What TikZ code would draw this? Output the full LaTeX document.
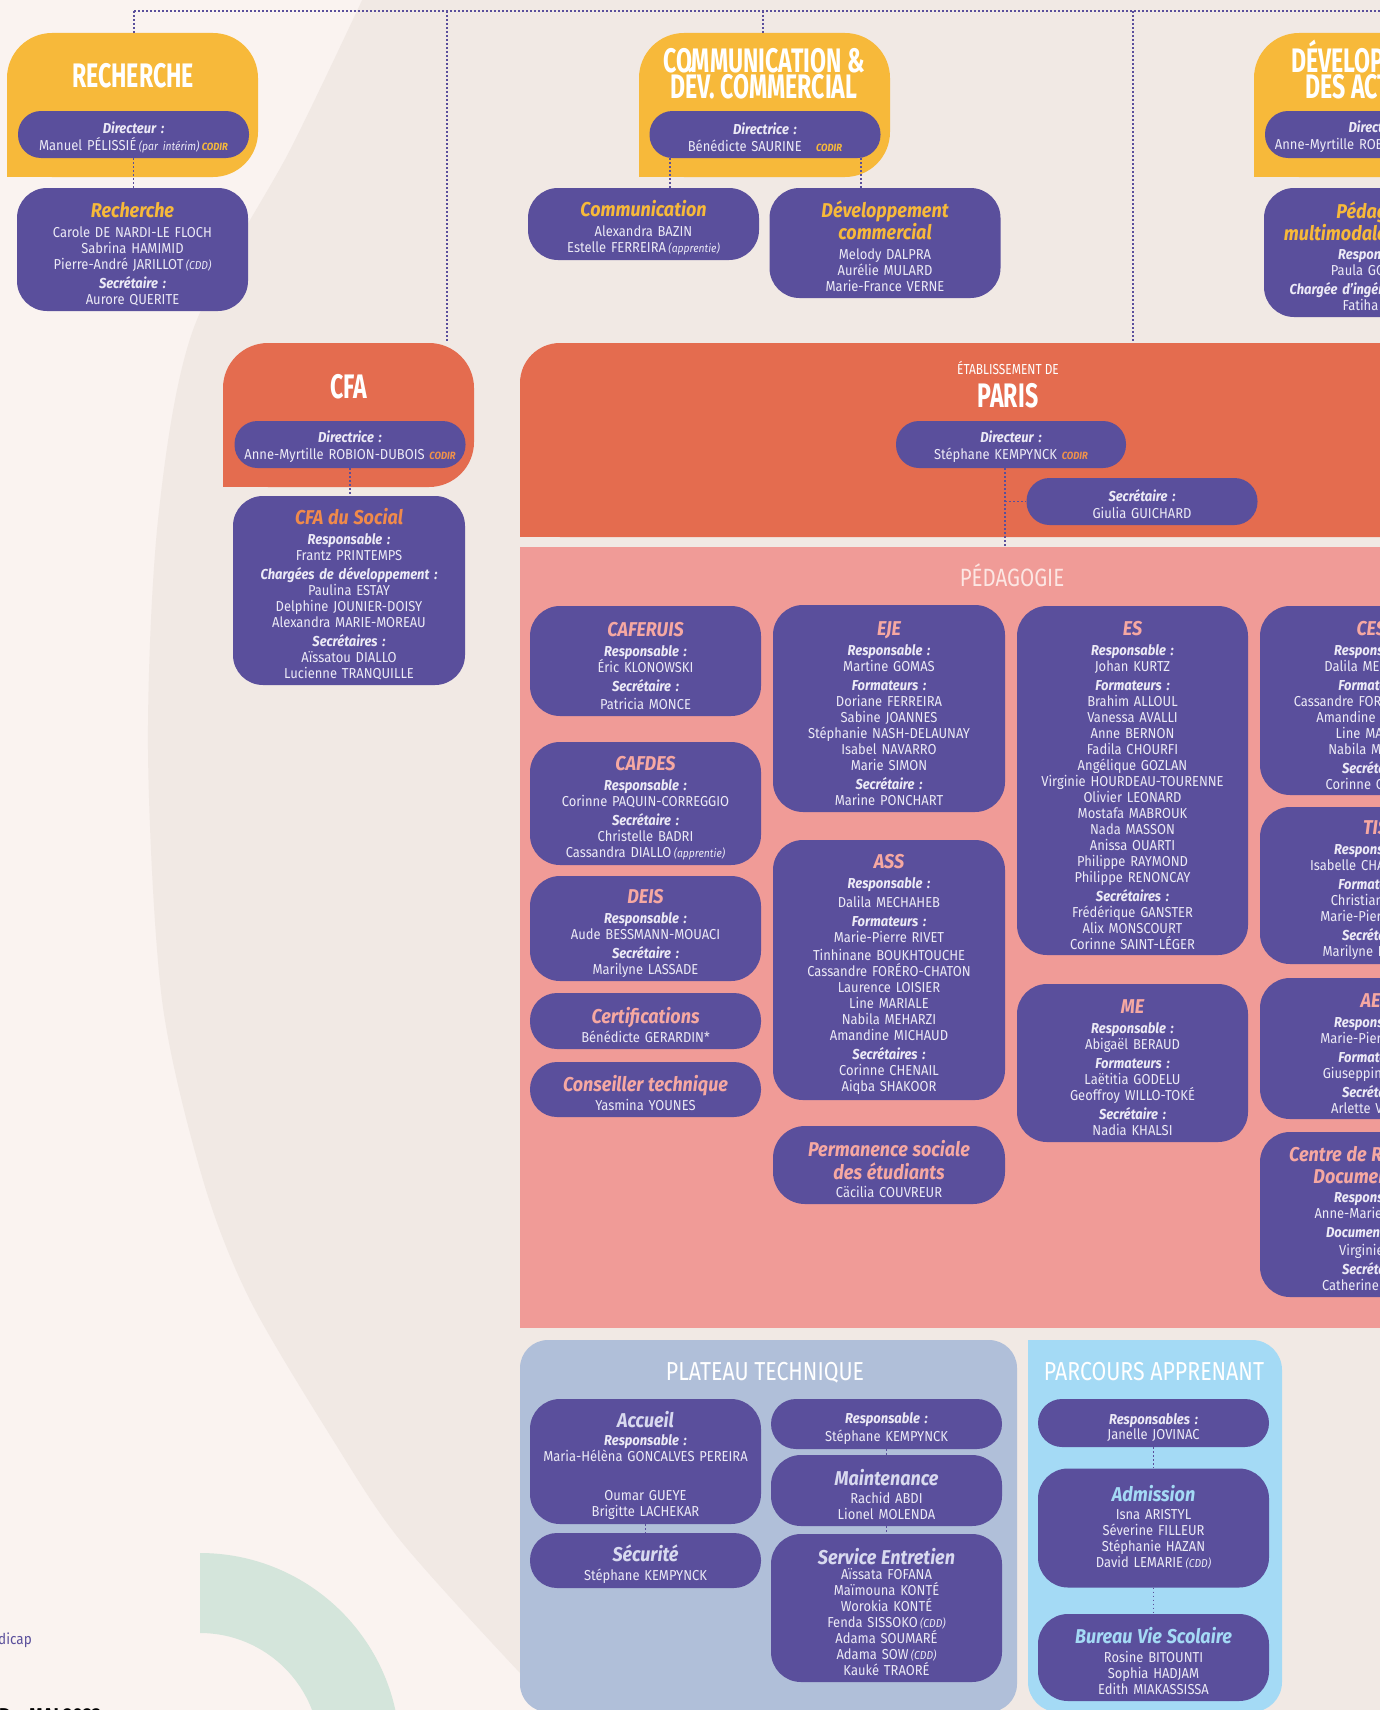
\documentclass[tikz,border=0pt]{standalone}
\usepackage{fontspec}
\setmainfont{Fira Sans}[FakeStretch=0.9]
\newfontfamily\bigfont{Fira Sans}[FakeStretch=0.68]
\newfontfamily\headfont{Fira Sans}[FakeStretch=0.82]
\definecolor{bgl}{HTML}{FAF3F0}
\definecolor{bgd}{HTML}{F1E9E4}
\definecolor{grn}{HTML}{D4E5DB}
\definecolor{yel}{HTML}{F7B93A}
\definecolor{purp}{HTML}{5A4F9C}
\definecolor{coral}{HTML}{E46C4F}
\definecolor{pinka}{HTML}{F09B97}
\definecolor{slate}{HTML}{B0BFD9}
\definecolor{skyb}{HTML}{A4DAF5}
\definecolor{namec}{HTML}{ECEAF6}
\definecolor{ttly}{HTML}{F7B93A}
\definecolor{ttlo}{HTML}{F08A4B}
\definecolor{ttlp}{HTML}{F6A8A2}
\definecolor{ttll}{HTML}{D8D9EF}
\definecolor{ttlb}{HTML}{A4DAF5}
\definecolor{codo}{HTML}{F0924A}
\definecolor{pedt}{HTML}{FCE6E3}
\newcommand\basefnt{\fontsize{14.4}{16}\selectfont\lineskiplimit=-30pt\relax}
\newcommand\bigfnt{\bigfont\bfseries\fontsize{34}{26}\selectfont\lineskiplimit=-30pt\relax}
\newcommand\headfnt{\headfont\fontsize{26}{28}\selectfont}
\newcommand\etabfnt{\headfont\fontsize{14.5}{16}\selectfont}
\newcommand\mylab[1]{{\bfseries\itshape #1}}
\newcommand\myttl[2][ttly]{{\fontsize{20}{22}\selectfont\bfseries\itshape\color{#1}#2}}
\newcommand\mysm[1]{{\fontsize{11.5}{12}\selectfont\itshape #1}}
\newcommand\mycod[1][ttly]{{\fontsize{10.5}{12}\selectfont\bfseries\itshape\color{#1}CODIR}}
\tikzset{
  txtbox/.style={rectangle, fill=purp, inner sep=0pt, align=center, text=namec, font=\basefnt},
  ubox/.style={txtbox, rounded corners=30pt, minimum width=231pt, text width=228pt, execute at begin node={\rule{0pt}{24pt}}},
  lbox/.style={txtbox, rounded corners=30pt, minimum width=231pt, text width=228pt, execute at begin node={\rule{0pt}{19.5pt}}},
  pill/.style={txtbox, rounded corners=23pt, minimum width=231pt, minimum height=47pt, text width=228pt, execute at begin node={\rule{0pt}{17pt}}},
  ybox/.style={rectangle, fill=yel, rounded corners=45pt, minimum width=251pt, minimum height=144pt, inner sep=0pt},
  cbox/.style={rectangle, fill=coral, rounded corners=45pt, minimum width=251pt, minimum height=144pt, inner sep=0pt},
  conn/.style={draw=purp, line width=1.6pt, dash pattern=on 1.6pt off 2.4pt},
  bigtitle/.style={font=\bigfnt, text=white, align=center, anchor=base, inner sep=0pt},
  headtitle/.style={font=\headfnt, text=white, anchor=base, inner sep=0pt}
}
\begin{document}
\begin{tikzpicture}[x=1pt,y=-1pt]
\useasboundingbox (0,0) rectangle (1380,1710);
\begin{scope}
\clip (0,0) rectangle (1380,1710);
% background
\fill[bgl] (0,0) rectangle (1380,1710);
\fill[bgd] plot[smooth] coordinates {(364,-4) (290,150) (193,330) (158,520) (148,750) (162,1000) (203,1180) (250,1300) (333,1440) (400,1540) (520,1673) (565,1716)} -- (1390,1716) -- (1390,-4) -- cycle;
\fill[grn] (200,1553) arc[start angle=-90, end angle=0, radius=200] -- (320,1753) arc[start angle=0, end angle=-90, radius=120] -- cycle;
\node[anchor=base east, font=\fontsize{15}{16}\selectfont, text=purp, inner sep=0pt] (hand) at (32,1644) {dicap};
\node[anchor=base west, font=\bfseries\fontsize{20}{22}\selectfont, text=black, inner sep=0pt] (date) at (-1,1722) {D – MAI 2023};

% ---------- top containers ----------
\node[ybox] (rechY) at (132.5,105) {};
\fill[yel] (rechY.south west) rectangle ++(50,-50);
\node[ybox] (commY) at (764.5,105) {};
\fill[yel] (commY.south west) rectangle ++(50,-50);
\node[ybox] (devY) at (1379.5,105) {};
\fill[yel] (devY.south west) rectangle ++(50,-50);
\node[bigtitle] (rechT) at (133,88) {RECHERCHE};
\node[bigtitle] (commT) at (764,98) {COMMUNICATION \&\\DÉV. COMMERCIAL};
\node[bigtitle] (devT) at (1380,98) {DÉVELOPPEMENT\\DES ACTIVITÉS};

\node[pill] (rechP) at (133.5,134.5) {\mylab{Directeur :}\\[1pt]Manuel PÉLISSIÉ\,\mysm{(par intérim)}\,\mycod};
\node[pill] (commP) at (765,134.5) {\mylab{Directrice :}\\[1pt]Bénédicte SAURINE\quad\mycod};
\node[pill] (devP) at (1380.5,134.5) {\mylab{Directrice :}\\[1pt]Anne-Myrtille ROBION-DUBOIS\ \mycod};

\node[ubox, minimum height=123pt] (rechB) at (132.5,249.5) {\myttl{Recherche}\\[4pt]Carole DE NARDI-LE FLOCH\\Sabrina HAMIMID\\Pierre-André JARILLOT\,\mysm{(CDD)}\\[3pt]\mylab{Secrétaire :}\\Aurore QUERITE};
\node[ubox, minimum height=72pt] (commB) at (643.5,224) {\myttl{Communication}\\[4pt]Alexandra BAZIN\\Estelle FERREIRA\,\mysm{(apprentie)}};
\node[ubox, minimum height=110pt] (devcB) at (885,243) {\myttl{Développement}\\[6pt]\myttl{commercial}\\[4pt]Melody DALPRA\\Aurélie MULARD\\Marie-France VERNE};
\node[ubox, minimum height=129pt] (pedmB) at (1379.5,252.5) {\myttl{Pédagogie}\\[6pt]\myttl{multimodale et digitale}\\[3pt]\mylab{Responsable :}\\Paula GONZALEZ\\[3pt]\mylab{Chargée d’ingénierie digitale :}\\Fatiha VIDAL};

% ---------- CFA ----------
\node[cbox] (cfaC) at (348.5,415) {};
\fill[coral] (cfaC.south west) rectangle ++(50,-50);
\node[bigtitle] (cfaT) at (349,398) {CFA};
\node[pill] (cfaP) at (350,444.5) {\mylab{Directrice :}\\[1pt]Anne-Myrtille ROBION-DUBOIS\ \mycod[codo]};
\node[ubox, minimum width=232pt, minimum height=189pt] (cfaB) at (349,590.5) {\myttl[ttlo]{CFA du Social}\\[4pt]\mylab{Responsable :}\\Frantz PRINTEMPS\\[3pt]\mylab{Chargées de développement :}\\Paulina ESTAY\\Delphine JOUNIER-DOISY\\Alexandra MARIE-MOREAU\\[3pt]\mylab{Secrétaires :}\\Aïssatou DIALLO\\Lucienne TRANQUILLE};

% ---------- PARIS ----------
\node[rectangle, fill=coral, rounded corners=40pt, minimum width=900pt, minimum height=194pt, inner sep=0pt] (parisC) at (970,440) {};
\fill[coral] (parisC.south west) rectangle ++(50,-50);
\node[font=\etabfnt, text=white, anchor=base, inner sep=0pt] (etabT) at (1008,374) {ÉTABLISSEMENT DE};
\node[bigtitle] (parisT) at (1008,407) {PARIS};
\node[pill, minimum width=230pt] (parisP) at (1011,444.5) {\mylab{Directeur :}\\[1pt]Stéphane KEMPYNCK\ \mycod[codo]};
\node[pill] (secP) at (1142,501.5) {\mylab{Secrétaire :}\\[1pt]Giulia GUICHARD};

% ---------- PEDAGOGIE ----------
\node[rectangle, fill=pinka, minimum width=900pt, minimum height=781pt, inner sep=0pt] (pedaC) at (970,937.5) {};
\node[font=\headfont\fontsize{25}{27}\selectfont, text=pedt, anchor=base, inner sep=0pt] (pedaT) at (1012,586) {PÉDAGOGIE};

\node[ubox, minimum height=110pt] (caferuis) at (645.5,661) {\myttl[ttlp]{CAFERUIS}\\[4pt]\mylab{Responsable :}\\Éric KLONOWSKI\\[3pt]\mylab{Secrétaire :}\\[2pt]Patricia MONCE};
\node[ubox, minimum height=123pt] (cafdes) at (645.5,803.5) {\myttl[ttlp]{CAFDES}\\[4pt]\mylab{Responsable :}\\Corinne PAQUIN-CORREGGIO\\[3pt]\mylab{Secrétaire :}\\Christelle BADRI\\Cassandra DIALLO\,\mysm{(apprentie)}};
\node[ubox, minimum height=105pt] (deis) at (645.5,928.5) {\myttl[ttlp]{DEIS}\\[4pt]\mylab{Responsable :}\\Aude BESSMANN-MOUACI\\[3pt]\mylab{Secrétaire :}\\Marilyne LASSADE};
\node[ubox, rounded corners=27pt, minimum height=56pt] (certif) at (645.5,1021) {\myttl[ttlp]{Certifications}\\[3pt]Bénédicte GERARDIN*};
\node[ubox, rounded corners=27pt, minimum height=55pt] (conseil) at (645.5,1089.5) {\myttl[ttlp]{Conseiller technique}\\[3pt]Yasmina YOUNES};

\node[ubox, minimum width=232pt, minimum height=207pt] (eje) at (889,708.5) {\myttl[ttlp]{EJE}\\[4pt]\mylab{Responsable :}\\Martine GOMAS\\[3pt]\mylab{Formateurs :}\\Doriane FERREIRA\\Sabine JOANNES\\Stéphanie NASH-DELAUNAY\\Isabel NAVARRO\\Marie SIMON\\[3pt]\mylab{Secrétaire :}\\Marine PONCHART};
\node[ubox, minimum width=232pt, minimum height=260pt] (ass) at (889,970) {\myttl[ttlp]{ASS}\\[4pt]\mylab{Responsable :}\\[3pt]Dalila MECHAHEB\\[3pt]\mylab{Formateurs :}\\Marie-Pierre RIVET\\[2pt]Tinhinane BOUKHTOUCHE\\Cassandre FORÉRO-CHATON\\Laurence LOISIER\\Line MARIALE\\Nabila MEHARZI\\Amandine MICHAUD\\[3pt]\mylab{Secrétaires :}\\Corinne CHENAIL\\Aiqba SHAKOOR};
\node[ubox, minimum width=232pt, minimum height=78pt, rounded corners=32pt] (perm) at (889,1165) {\myttl[ttlp]{Permanence sociale}\\[7pt]\myttl[ttlp]{des étudiants}\\[2pt]Cäcilia COUVREUR};

\node[ubox, minimum height=349pt] (es) at (1132.5,780.5) {\myttl[ttlp]{ES}\\[4pt]\mylab{Responsable :}\\Johan KURTZ\\[3pt]\mylab{Formateurs :}\\Brahim ALLOUL\\Vanessa AVALLI\\Anne BERNON\\Fadila CHOURFI\\Angélique GOZLAN\\Virginie HOURDEAU-TOURENNE\\Olivier LEONARD\\Mostafa MABROUK\\Nada MASSON\\Anissa OUARTI\\Philippe RAYMOND\\Philippe RENONCAY\\[3pt]\mylab{Secrétaires :}\\Frédérique GANSTER\\Alix MONSCOURT\\Corinne SAINT-LÉGER};
\node[ubox, minimum height=158pt] (me) at (1132.5,1063) {\myttl[ttlp]{ME}\\[4pt]\mylab{Responsable :}\\Abigaël BERAUD\\[3pt]\mylab{Formateurs :}\\Laëtitia GODELU\\Geoffroy WILLO-TOKÉ\\[3pt]\mylab{Secrétaire :}\\Nadia KHALSI};

\node[ubox, minimum height=189pt] (cesf) at (1375.5,700.5) {\myttl[ttlp]{CESF}\\[4pt]\mylab{Responsable :}\\Dalila MECHAHEB\\[3pt]\mylab{Formateurs :}\\Cassandre FORÉRO-CHATON\\Amandine MICHAUD\\Line MARIALE\\Nabila MEHARZI\\[3pt]\mylab{Secrétaire :}\\Corinne CHENAIL};
\node[ubox, minimum height=157pt] (tis) at (1375.5,885.5) {\myttl[ttlp]{TIS}\\[4pt]\mylab{Responsable :}\\Isabelle CHARPENTIER\\[3pt]\mylab{Formateurs :}\\Christian ROUX\\Marie-Pierre RIVET\\[3pt]\mylab{Secrétaire :}\\Marilyne LASSADE};
\node[ubox, minimum height=141pt] (aes) at (1375.5,1048.5) {\myttl[ttlp]{AES}\\[4pt]\mylab{Responsable :}\\Marie-Pierre RIVET\\[3pt]\mylab{Formateurs :}\\Giuseppina ROSSI\\[3pt]\mylab{Secrétaire :}\\Arlette VERNET};
\node[ubox, minimum height=165pt] (crd) at (1375.5,1214.5) {\myttl[ttlp]{Centre de Ressources}\\[6pt]\myttl[ttlp]{Documentation}\\[3pt]\mylab{Responsable :}\\Anne-Marie DURAND\\[3pt]\mylab{Documentaliste :}\\[2pt]Virginie ROY\\[3pt]\mylab{Secrétaire :}\\Catherine LAJUGIE};

% ---------- PLATEAU TECHNIQUE ----------
\node[rectangle, fill=slate, rounded corners=28pt, minimum width=497pt, minimum height=372pt, inner sep=0pt] (platC) at (768.5,1526) {};
\node[headtitle] (platT) at (765,1380) {PLATEAU TECHNIQUE};
\node[ubox, minimum height=125pt] (accueil) at (645.5,1461.5) {\myttl[ttll]{Accueil}\\[2pt]\mylab{Responsable :}\\Maria-Hélèna GONCALVES PEREIRA\\[23pt]Oumar GUEYE\\Brigitte LACHEKAR};
\node[ubox, rounded corners=27pt, minimum height=55pt] (secu) at (645.5,1560.5) {\myttl[ttll]{Sécurité}\\[3pt]Stéphane KEMPYNCK};
\node[lbox, rounded corners=25pt, minimum height=50pt] (respPT) at (886.5,1424) {\mylab{Responsable :}\\[2pt]Stéphane KEMPYNCK};
\node[ubox, minimum height=71pt] (maint) at (886.5,1490.5) {\myttl[ttll]{Maintenance}\\[2pt]Rachid ABDI\\Lionel MOLENDA};
\node[ubox, minimum height=148pt] (entret) at (886.5,1608) {\myttl[ttll]{Service Entretien}\\[-1pt]Aïssata FOFANA\\Maïmouna KONTÉ\\Worokia KONTÉ\\Fenda SISSOKO\,\mysm{(CDD)}\\Adama SOUMARÉ\\Adama SOW\,\mysm{(CDD)}\\Kauké TRAORÉ};

% ---------- PARCOURS APPRENANT ----------
\node[rectangle, fill=skyb, rounded corners=30pt, minimum width=254pt, minimum height=372pt, inner sep=0pt] (parcC) at (1155,1526) {};
\fill[skyb] (parcC.north west) rectangle ++(40,40);
\node[headtitle] (parcT) at (1154,1380) {PARCOURS APPRENANT};
\node[lbox, rounded corners=24pt, minimum height=48pt] (respPA) at (1153.5,1423) {\mylab{Responsables :}\\[-1pt]Janelle JOVINAC};
\node[ubox, minimum height=119pt] (admis) at (1153.5,1528) {\myttl[ttlb]{Admission}\\[2pt]Isna ARISTYL\\Séverine FILLEUR\\Stéphanie HAZAN\\David LEMARIE\,\mysm{(CDD)}\\[-5pt]\mbox{}};
\node[ubox, minimum height=87pt] (bvs) at (1153.5,1657.5) {\myttl[ttlb]{Bureau Vie Scolaire}\\[3pt]Rosine BITOUNTI\\Sophia HADJAM\\Edith MIAKASSISSA};

% ---------- connectors ----------
\coordinate (tl) at (134,11);
\coordinate (tr) at (1392,11);
\coordinate (cfaj) at (447,11);
\coordinate (parj) at (1133,11);
\coordinate (commj) at (763,11);
\draw[conn] (tl) -- (tr);
\draw[conn] (tl) -- (tl |- rechY.north);
\draw[conn] (commj) -- (commj |- commY.north);
\draw[conn] (cfaj) -- (cfaj |- cfaC.north);
\draw[conn] (parj) -- (parj |- parisC.north);
\draw[conn] (rechP.south) -- (rechP.south |- rechB.north);
\draw[conn] ([xshift=-95pt]commP.south) -- ([xshift=-95pt]commP.south |- commB.north);
\draw[conn] ([xshift=96pt]commP.south) -- ([xshift=96pt]commP.south |- devcB.north);
\draw[conn] (devP.south) -- (devP.south |- pedmB.north);
\draw[conn] (cfaP.south) -- (cfaP.south |- cfaB.north);
\coordinate (pj2) at ([xshift=-6pt]parisP.south);
\draw[conn] (pj2) -- (pj2 |- pedaC.north);
\draw[conn] (pj2 |- secP.west) -- (secP.west);
\draw[conn] (accueil.south) -- (secu.north);
\draw[conn] (respPT.south) -- (maint.north);
\draw[conn] (maint.south) -- (entret.north);
\draw[conn] (respPA.south) -- (admis.north);
\draw[conn] (admis.south) -- (bvs.north);
\end{scope}
\end{tikzpicture}
\end{document}
